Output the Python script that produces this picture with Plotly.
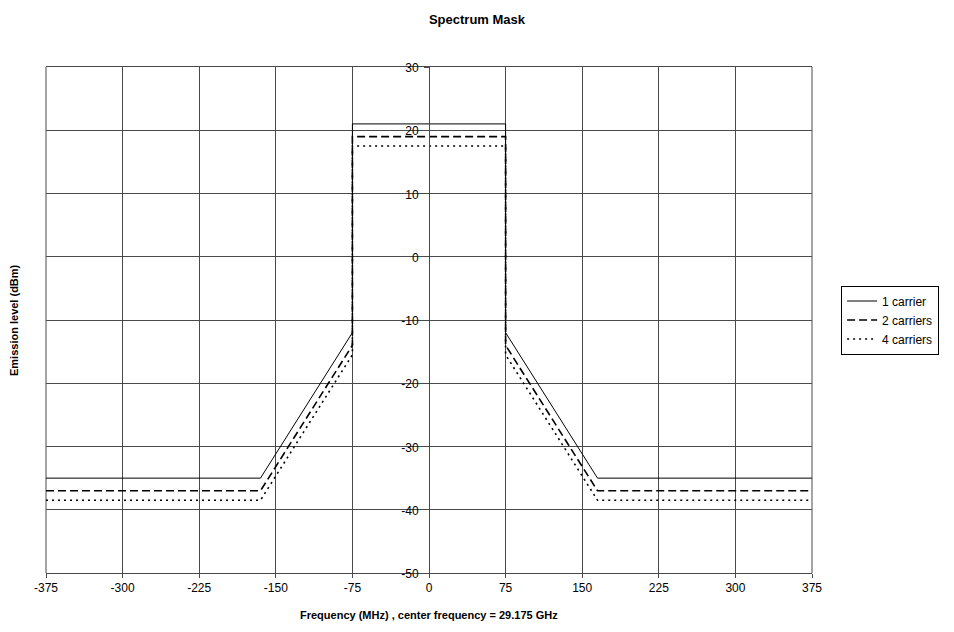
import plotly.graph_objects as go

# Mask breakpoints (MHz offset from centre) and emission limits (dBm)
freq = [-375, -165, -75, -75, 75, 75, 165, 375]
one_carrier = [-35, -35, -12, 21, 21, -12, -35, -35]
two_carriers = [-37, -37, -14, 19, 19, -14, -37, -37]
four_carriers = [-38.5, -38.5, -15.5, 17.5, 17.5, -15.5, -38.5, -38.5]

x_ticks = [-375, -300, -225, -150, -75, 0, 75, 150, 225, 300, 375]
y_ticks = [-50, -40, -30, -20, -10, 0, 10, 20, 30]

FONT = "Liberation Sans, Arial, sans-serif"
GRID = "#4a4a4a"

fig = go.Figure()
fig.add_trace(go.Scatter(x=freq, y=one_carrier, mode="lines", name="1 carrier",
                         line=dict(color="#000000", width=1)))
fig.add_trace(go.Scatter(x=freq, y=two_carriers, mode="lines", name="2 carriers",
                         line=dict(color="#000000", width=1.6, dash="8px,4px")))
fig.add_trace(go.Scatter(x=freq, y=four_carriers, mode="lines", name="4 carriers",
                         line=dict(color="#000000", width=1.6, dash="2px,4px")))

fig.update_layout(
    width=954, height=632,
    margin=dict(l=46, r=142, t=67, b=59),
    paper_bgcolor="white", plot_bgcolor="white",
    font=dict(family=FONT, size=12, color="#000000"),
    title=dict(text="<b>Spectrum Mask</b>", x=0.5, xref="container", xanchor="center",
               y=1 - 19 / 632, yref="container", yanchor="middle",
               font=dict(family=FONT, size=13)),
    showlegend=True,
    legend=dict(x=1.038, xanchor="left", y=0.5, yanchor="middle",
                bordercolor="#000000", borderwidth=1, bgcolor="white",
                font=dict(family=FONT, size=12), tracegroupgap=0),
    xaxis=dict(range=[-375, 375], tickvals=x_ticks, ticktext=[str(v) for v in x_ticks],
               showgrid=True, gridcolor=GRID, gridwidth=1, zeroline=False,
               showline=True, linecolor=GRID, linewidth=1, mirror=True,
               ticks="outside", ticklen=4, tickcolor=GRID,
               tickfont=dict(family=FONT, size=12)),
    yaxis=dict(range=[-50, 30], tickvals=y_ticks, ticktext=[str(v) for v in y_ticks],
               anchor="free", position=0.5,
               showgrid=True, gridcolor=GRID, gridwidth=1, zeroline=False,
               showline=True, linecolor=GRID, linewidth=1,
               ticks="outside", ticklen=5, tickcolor=GRID,
               ticklabelstandoff=3, ticklabelshift=1,
               tickfont=dict(family=FONT, size=12)),
)

# Left and right frame edges of the plotting area
for edge in (0, 1):
    fig.add_shape(type="line", xref="paper", yref="paper", x0=edge, x1=edge, y0=0, y1=1,
                  line=dict(color=GRID, width=1), layer="below")

fig.add_annotation(text="<b>Frequency (MHz) , center frequency = 29.175 GHz</b>",
                   xref="paper", yref="paper", x=0.5, y=-42 / 506,
                   xanchor="center", yanchor="middle", showarrow=False,
                   font=dict(family=FONT, size=11))
fig.add_annotation(text="<b>Emission level (dBm)</b>",
                   xref="paper", yref="paper", x=-32 / 766, y=0.5,
                   xanchor="center", yanchor="middle", textangle=-90, showarrow=False,
                   font=dict(family=FONT, size=11))

fig.write_html("out.html")
